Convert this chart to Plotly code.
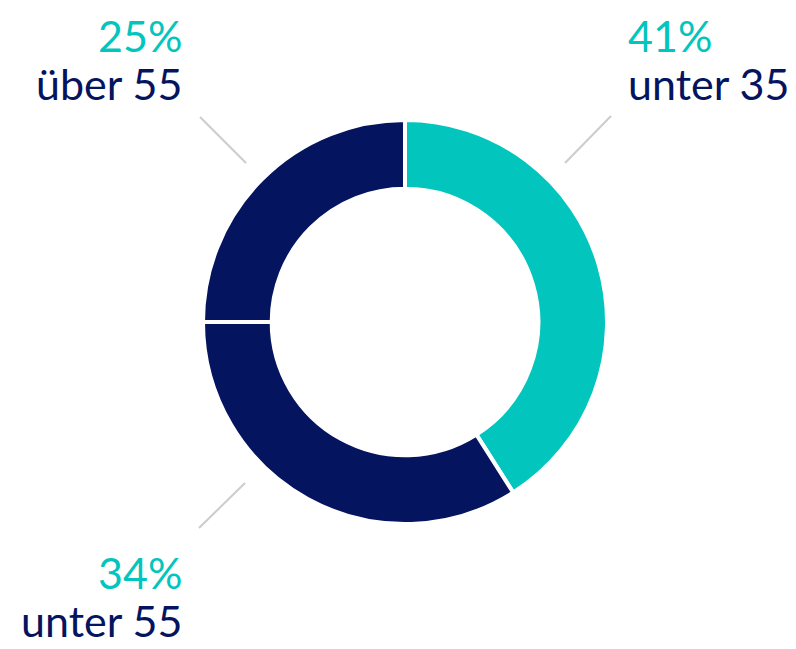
import plotly.graph_objects as go

categories = ["unter 35", "unter 55", "über 55"]
values = [41, 34, 25]
colors = ["#02C5BE", "#04145F", "#04145F"]

# page body has an 8px margin: size the figure to the visible area
OFF = 8
W, H = 796 - OFF, 649 - OFF
TEAL = "#02C5BE"
NAVY = "#04145F"
FONT = "Lato"

def px(x):
    return (x - OFF) / W

def py(y):
    return 1 - (y - OFF) / H

cx, cy, r = 405, 322, 202

fig = go.Figure(go.Pie(
    labels=categories,
    values=values,
    sort=False,
    direction="clockwise",
    rotation=0,
    hole=0.66,
    marker=dict(colors=colors, line=dict(color="white", width=4)),
    textinfo="none",
    hoverinfo="label+percent",
    showlegend=False,
    domain=dict(x=[px(cx - r), px(cx + r)], y=[py(cy + r), py(cy - r)]),
))

# label placement (screen pixels): x, top of percent line, top of label line
placements = [
    dict(x=626, y1=8, y2=56, anchor="left"),      # unter 35
    dict(x=184, y1=545, y2=593, anchor="right"),  # unter 55
    dict(x=184, y1=8, y2=56, anchor="right"),     # über 55
]

for cat, val, p in zip(categories, values, placements):
    fig.add_annotation(
        x=px(p["x"]), y=py(p["y1"]), xref="paper", yref="paper",
        xanchor=p["anchor"], yanchor="top", showarrow=False,
        text=f"{val}%", font=dict(family=FONT, size=43, color=TEAL),
    )
    fig.add_annotation(
        x=px(p["x"]), y=py(p["y2"]), xref="paper", yref="paper",
        xanchor=p["anchor"], yanchor="top", showarrow=False,
        text=cat, font=dict(family=FONT, size=43, color=NAVY),
    )

leaders = [
    (611, 116, 565, 163),
    (245, 483, 199, 528),
    (200, 117, 246, 163),
]
for x0, y0, x1, y1 in leaders:
    fig.add_shape(type="line", xref="paper", yref="paper",
                  x0=px(x0), y0=py(y0), x1=px(x1), y1=py(y1),
                  line=dict(color="#CCCCCC", width=2))

fig.update_layout(
    width=W, height=H,
    margin=dict(l=0, r=0, t=0, b=0),
    paper_bgcolor="white", plot_bgcolor="white",
)

fig.write_html("out.html")
